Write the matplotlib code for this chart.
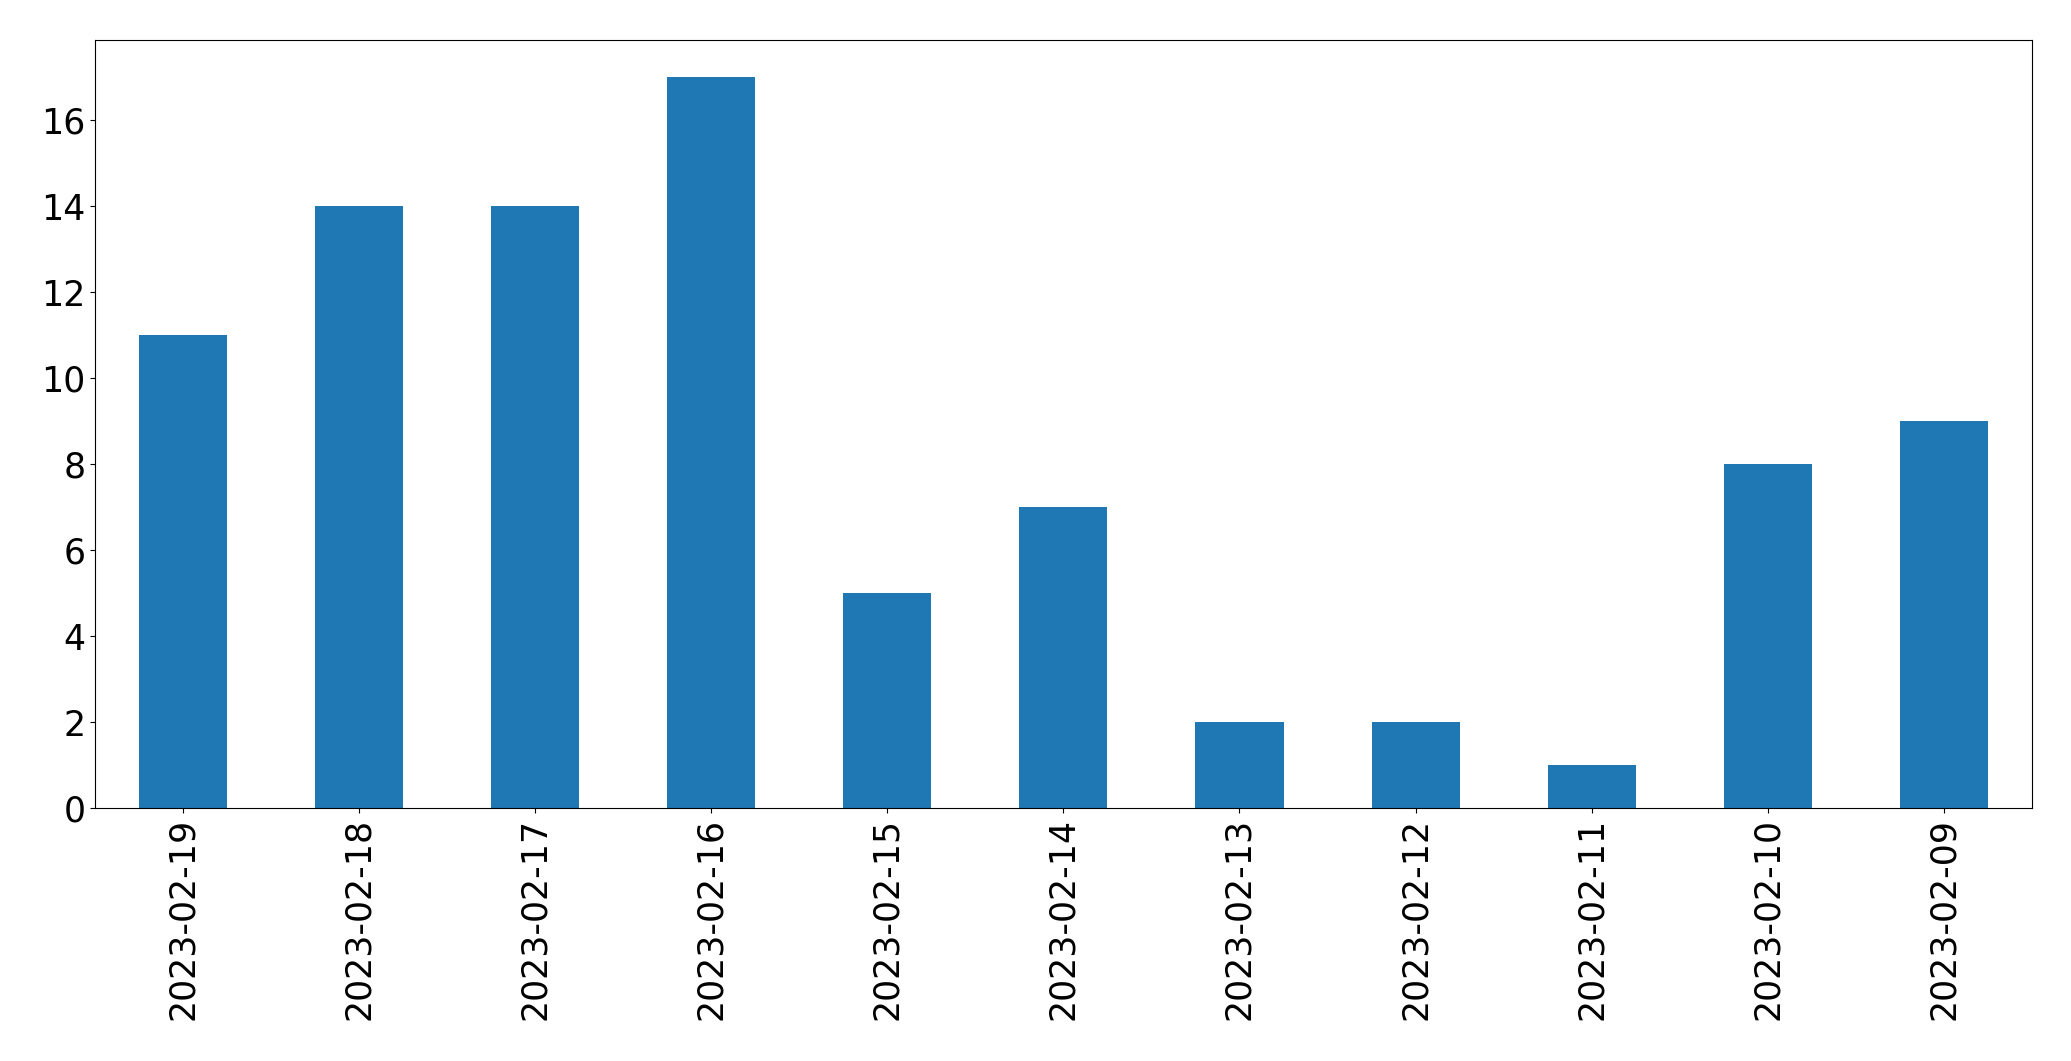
import matplotlib
matplotlib.use("Agg")
import matplotlib.pyplot as plt

dates = ["2023-02-19", "2023-02-18", "2023-02-17", "2023-02-16", "2023-02-15",
         "2023-02-14", "2023-02-13", "2023-02-12", "2023-02-11", "2023-02-10",
         "2023-02-09"]
counts = [11, 14, 14, 17, 5, 7, 2, 2, 1, 8, 9]

fig, ax = plt.subplots(figsize=(20.71, 10.61), dpi=100)
x = range(len(dates))
ax.bar(x, counts, width=0.5, color="#1f77b4")
ax.set_xticks(list(x))
ax.set_xticklabels(dates, rotation=90)
ax.set_xlim(-0.5, len(dates) - 0.5)
ax.tick_params(axis="both", labelsize=25)

fig.subplots_adjust(left=0.046, right=0.981, top=0.962, bottom=0.238)
fig.savefig("out.png")
